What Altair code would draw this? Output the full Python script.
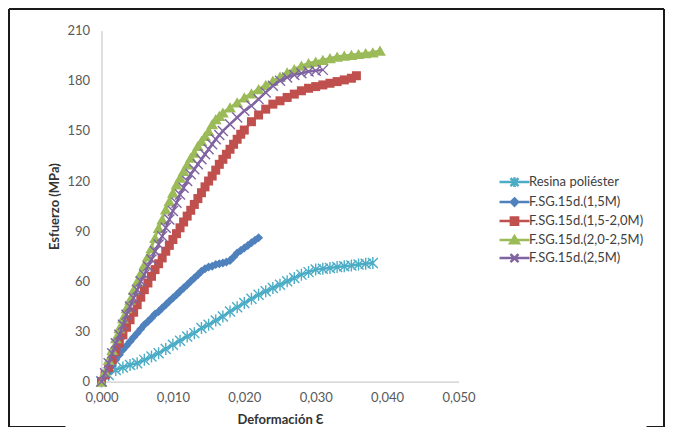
import altair as alt
import pandas as pd

series_names = ["Resina poliéster", "F.SG.15d.(1,5M)", "F.SG.15d.(1,5-2,0M)",
                "F.SG.15d.(2,0-2,5M)", "F.SG.15d.(2,5M)"]
colors = ["#4BACC6", "#4F81BD", "#C0504D", "#9BBB59", "#8064A2"]

x_ticks = [0, 0.01, 0.02, 0.03, 0.04, 0.05]
y_ticks = [0, 30, 60, 90, 120, 150, 180, 210]

resina_x = [0, 0.001, 0.002, 0.003, 0.004, 0.005, 0.006, 0.007, 0.008, 0.009, 0.010,
            0.011, 0.012, 0.013, 0.014, 0.015, 0.016, 0.017, 0.018, 0.019, 0.020,
            0.021, 0.022, 0.023, 0.024, 0.025, 0.026, 0.027, 0.028, 0.029, 0.030,
            0.031, 0.032, 0.033, 0.034, 0.035, 0.036, 0.037, 0.038]
resina_y = [0, 4, 7, 8.5, 10, 11, 13, 15, 17, 19.5, 22,
            24.5, 27, 29, 32, 34, 36.5, 39, 42, 44.5, 47,
            49.5, 52, 54, 56, 58, 60, 62, 64, 65.5, 67,
            67.5, 68, 68.5, 69, 69.5, 70, 70.5, 71]

m15_x = [0, 0.0005, 0.001, 0.0015, 0.002, 0.0025, 0.003, 0.0035, 0.004, 0.0045, 0.005,
         0.0055, 0.006, 0.0065, 0.007, 0.0075, 0.008, 0.0085, 0.009, 0.0095, 0.010,
         0.0105, 0.011, 0.0115, 0.012, 0.0125, 0.013, 0.0135, 0.014, 0.0145, 0.015,
         0.0155, 0.016, 0.0165, 0.017, 0.0175, 0.018, 0.0185, 0.019, 0.0195, 0.020,
         0.0205, 0.021, 0.0215, 0.022]
m15_y = [0, 3, 6, 9.5, 13, 16, 19, 21.5, 24, 26.5, 29,
         31.5, 34, 36, 38, 40.5, 42, 44, 46, 48, 50,
         52, 54, 56, 58, 60, 62, 64, 66, 67.5, 68.5,
         69, 70, 70.5, 71, 71.5, 72.5, 74.5, 77, 78.5, 80,
         81.5, 83, 84.5, 86]

m1520_x = [0, 0.0005, 0.001, 0.0015, 0.002, 0.0025, 0.003, 0.0035, 0.004, 0.0045, 0.005,
           0.0055, 0.006, 0.0065, 0.007, 0.0075, 0.008, 0.0085, 0.009, 0.0095, 0.010,
           0.0105, 0.011, 0.0115, 0.012, 0.0125, 0.013, 0.0135, 0.014, 0.0145, 0.015,
           0.0155, 0.016, 0.0165, 0.017, 0.0175, 0.018, 0.0185, 0.019, 0.0195, 0.020,
           0.021, 0.022, 0.023, 0.024, 0.025, 0.026, 0.027, 0.028, 0.029, 0.030,
           0.031, 0.032, 0.033, 0.034, 0.035, 0.0357]
m1520_y = [0, 4, 8.5, 13, 18, 23, 28, 32.5, 37, 41.5, 46,
           50.5, 55, 59, 63, 67, 70.5, 74, 78, 81.5, 85,
           88.5, 92, 95.5, 99, 102.5, 106, 109.5, 113, 116.5, 120,
           123, 126.5, 130, 133, 136, 139, 142, 145, 148, 150.5,
           155.5, 159.5, 163, 166, 168, 170, 172, 174, 175.5, 176.5,
           177.5, 178.5, 179.5, 180.5, 181.5, 183]

m2025_x = [0, 0.0005, 0.001, 0.0015, 0.002, 0.0025, 0.003, 0.0035, 0.004, 0.0045, 0.005,
           0.0055, 0.006, 0.0065, 0.007, 0.0075, 0.008, 0.0085, 0.009, 0.0095, 0.010,
           0.0105, 0.011, 0.0115, 0.012, 0.0125, 0.013, 0.0135, 0.014, 0.0145, 0.015,
           0.0155, 0.016, 0.0165, 0.017, 0.018, 0.019, 0.020, 0.021, 0.022, 0.023,
           0.024, 0.025, 0.026, 0.027, 0.028, 0.029, 0.030, 0.031, 0.032, 0.033,
           0.034, 0.035, 0.036, 0.037, 0.038, 0.039]
m2025_y = [0, 6, 13, 19, 26, 32, 38, 44, 49, 55, 60,
           65, 70, 75, 80, 86, 92, 97, 103, 108, 113,
           118, 122, 126, 130, 134, 137, 141, 144, 147, 150,
           154, 157, 159, 161, 164, 167, 170, 172.5, 175, 177.5,
           180, 182.5, 185, 187, 189, 190.5, 191.5, 192.5, 193.5, 194.5,
           195, 195.5, 196, 196.5, 197, 198]

m25_x = [0, 0.0005, 0.001, 0.0015, 0.002, 0.0025, 0.003, 0.0035, 0.004, 0.0045, 0.005,
         0.0055, 0.006, 0.0065, 0.007, 0.0075, 0.008, 0.0085, 0.009, 0.0095, 0.010,
         0.0105, 0.011, 0.0115, 0.012, 0.0125, 0.013, 0.0135, 0.014, 0.0145, 0.015,
         0.0155, 0.016, 0.0165, 0.017, 0.018, 0.019, 0.020, 0.021, 0.022, 0.023,
         0.024, 0.025, 0.026, 0.027, 0.028, 0.029, 0.030, 0.031]
m25_y = [0, 5, 11, 17, 23, 28, 34, 40, 45, 50, 55,
         60, 64, 69, 73, 78, 82, 87, 92, 97, 102,
         107, 112, 116, 120, 124, 127, 130, 133, 136, 139,
         142, 145, 147.5, 150, 154, 158, 162, 165, 169, 173,
         177, 180, 182, 183.5, 184.5, 185.5, 186, 186.5]

series_x = [resina_x, m15_x, m1520_x, m2025_x, m25_x]
series_y = [resina_y, m15_y, m1520_y, m2025_y, m25_y]

# marker shapes (chart) and legend symbols (line + marker)
star_path = "M-1,-1L1,1M1,-1L-1,1M0,-1.2L0,1.2"
x_path = "M-1,-1L1,1M1,-1L-1,1"
marker_specs = [
    dict(shape=star_path, filled=False, size=100, strokeWidth=1.4),
    dict(shape="diamond", filled=True, size=81),
    dict(shape="square", filled=True, size=81),
    dict(shape="triangle-up", filled=True, size=140),
    dict(shape=x_path, filled=False, size=100, strokeWidth=1.4),
]
line_part = "M-1.875,0L1.875,0"
legend_paths = [
    line_part + "M-0.5,-0.5L0.5,0.5M0.5,-0.5L-0.5,0.5M0,-0.6L0,0.6",
    line_part + "M0,-0.45L0.45,0L0,0.45L-0.45,0Z",
    line_part + "M-0.45,-0.45L0.45,-0.45L0.45,0.45L-0.45,0.45Z",
    line_part + "M0,-0.5L0.55,0.4L-0.55,0.4Z",
    line_part + "M-0.5,-0.5L0.5,0.5M0.5,-0.5L-0.5,0.5",
]

FONT = "Lato"

x_enc = alt.X("x:Q",
              scale=alt.Scale(domain=[0, 0.05], nice=False, zero=False),
              axis=alt.Axis(values=x_ticks, grid=False, ticks=False, tickSize=0,
                            labelFlush=False,
                            labelExpr="replace(format(datum.value, '.3f'), '.', ',')",
                            title="Deformación Ɛ", labelPadding=10, titlePadding=9,
                            domainColor="#BFBFBF", labelColor="#595959",
                            labelFont=FONT, labelFontSize=13,
                            titleFont=FONT, titleFontSize=13, titleFontWeight="bold",
                            titleColor="#333333"))
y_enc = alt.Y("y:Q",
              scale=alt.Scale(domain=[0, 210], nice=False),
              axis=alt.Axis(values=y_ticks, grid=False, ticks=False, tickSize=0,
                            labelFlush=False,
                            title="Esfuerzo (MPa)", labelPadding=12, titlePadding=5,
                            domainColor="#BFBFBF", labelColor="#595959",
                            labelFont=FONT, labelFontSize=13,
                            titleFont=FONT, titleFontSize=13, titleFontWeight="bold",
                            titleColor="#333333"))

layers = []

# outer frame of the chart area
frame_df = pd.DataFrame({"k": [0]})
frame_color = "#1a1a1a"
for enc in [
    dict(x=alt.value(-92.5), x2=alt.value(562.5), y=alt.value(-21.6)),
    dict(x=alt.value(-92.5), y=alt.value(-21.6), y2=alt.value(396.4)),
    dict(x=alt.value(562.5), y=alt.value(-21.6), y2=alt.value(396.4)),
    dict(x=alt.value(-92.5), x2=alt.value(-36), y=alt.value(396.4)),
    dict(x=alt.value(545), x2=alt.value(562.5), y=alt.value(396.4)),
]:
    layers.append(alt.Chart(frame_df).mark_rule(color=frame_color, strokeWidth=2).encode(**enc))

for name, col, xs, ys, spec in zip(series_names, colors, series_x, series_y, marker_specs):
    df = pd.DataFrame({"x": xs, "y": ys, "serie": name})
    layers.append(alt.Chart(df).mark_line(color=col, strokeWidth=2.5).encode(x=x_enc, y=y_enc))
    spec = dict(spec)
    layers.append(alt.Chart(df).mark_point(color=col, opacity=1, **spec).encode(x=x_enc, y=y_enc))

legend_df = pd.DataFrame({"serie": series_names})
leg = dict(title=None, orient="none", legendX=403.5, legendY=142, padding=0,
           labelFont=FONT, labelFontSize=13, labelColor="#404040",
           symbolSize=256, symbolStrokeWidth=2.5, labelOffset=5, rowPadding=0,
           symbolOpacity=1)
legend_layer = alt.Chart(legend_df).transform_filter("false").mark_point(
    filled=True, opacity=1, size=256).encode(
    shape=alt.Shape("serie:N", scale=alt.Scale(domain=series_names, range=legend_paths),
                    legend=alt.Legend(**leg)),
    fill=alt.Fill("serie:N", scale=alt.Scale(domain=series_names, range=colors),
                  legend=alt.Legend(**leg)),
    stroke=alt.Stroke("serie:N", scale=alt.Scale(domain=series_names, range=colors),
                      legend=alt.Legend(**leg)),
)
layers.append(legend_layer)

chart = alt.layer(*layers).properties(
    width=357, height=351,
    padding={"left": 93.5, "top": 22.6, "right": 206.5, "bottom": 45.4},
    autosize=alt.AutoSizeParams(type="none"),
    background="white",
).configure_view(stroke=None)

chart.save("out.html", embed_options={"renderer": "svg", "actions": False})
